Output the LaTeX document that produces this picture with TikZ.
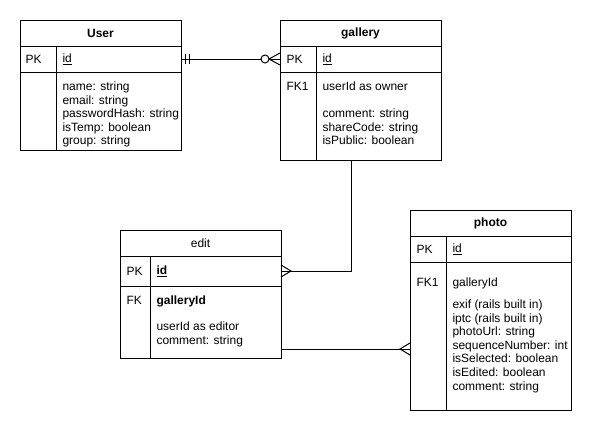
\documentclass[tikz,border=0pt]{standalone}
\usepackage{fontspec}
\setmainfont{Liberation Sans}
\usetikzlibrary{positioning}

\tikzset{
  tabla/.style={draw, line width=1pt, minimum width=161pt, inner sep=0pt, outer sep=0pt, anchor=north west},
  fila/.style={tabla, minimum height=26pt},
  cabecera/.style={fila, font=\bfseries},
  clave/.style={anchor=west, inner sep=0pt},
  campo/.style={anchor=base west, inner sep=0pt},
  campos/.style={anchor=north west, inner sep=0pt, align=left},
}

\begin{document}
\fontsize{12}{13.6}\selectfont
\begin{tikzpicture}[x=1pt, y=-1pt, line width=1pt]
\useasboundingbox (0,0) rectangle (591,434);

% User
\node[cabecera] (user-head) at (20,20) {User};
\node[fila, below=0pt of user-head] (user-pk) {};
\node[tabla, minimum height=78pt, below=0pt of user-pk] (user-body) {};
\draw ([xshift=36]user-pk.north west) -- ([xshift=36]user-body.south west);
\node[clave, right=5pt of user-pk.west] (user-pk-key) {PK};
\node[clave, right=42pt of user-pk.west] (user-id) {\underline{id}};
\node[campos] (user-campos) at (62,81.3) {name: string\\email: string\\passwordHash: string\\isTemp: boolean\\group: string};

% Gallery
\node[cabecera] (gallery-head) at (280,20) {gallery};
\node[fila, below=0pt of gallery-head] (gallery-pk) {};
\node[tabla, minimum height=88pt, below=0pt of gallery-pk] (gallery-body) {};
\draw ([xshift=36]gallery-pk.north west) -- ([xshift=36]gallery-body.south west);
\node[clave, right=6pt of gallery-pk.west] (gallery-pk-key) {PK};
\node[clave, right=42pt of gallery-pk.west] (gallery-id) {\underline{id}};
\node[campo] (gallery-fk-key) at (286,90) {FK1};
\node[campo] (gallery-fk) at (322,90) {userId as owner};
\node[campos] (gallery-campos) at (322,108.3) {comment: string\\shareCode: string\\isPublic: boolean};

% Edit
\node[fila] (edit-head) at (120,230) {edit};
\node[fila, minimum height=30pt, below=0pt of edit-head] (edit-pk) {};
\node[tabla, minimum height=72pt, below=0pt of edit-pk] (edit-body) {};
\draw ([xshift=30]edit-pk.north west) -- ([xshift=30]edit-body.south west);
\node[clave, right=6pt of edit-pk.west] (edit-pk-key) {PK};
\node[clave, right=36pt of edit-pk.west] (edit-id) {\textbf{\underline{id}}};
\node[campo] (edit-fk-key) at (126,304) {FK};
\node[campo] (edit-fk) at (156,304) {\textbf{galleryId}};
\node[campos] (edit-campos) at (156,321.3) {userId as editor\\comment: string};

% Photo
\node[cabecera] (photo-head) at (410,210) {photo};
\node[fila, below=0pt of photo-head] (photo-pk) {};
\node[tabla, minimum height=148pt, below=0pt of photo-pk] (photo-body) {};
\draw ([xshift=36]photo-pk.north west) -- ([xshift=36]photo-body.south west);
\node[clave, right=6pt of photo-pk.west] (photo-pk-key) {PK};
\node[clave, right=42pt of photo-pk.west] (photo-id) {\underline{id}};
\node[campo] (photo-fk-key) at (416,286) {FK1};
\node[campo] (photo-fk) at (452,286) {galleryId};
\node[campos] (photo-campos) at (452,299.3) {exif (rails built in)\\iptc (rails built in)\\photoUrl: string\\sequenceNumber: int\\isSelected: boolean\\isEdited: boolean\\comment: string};

% Relaciones
\draw (user-pk.east) -- (gallery-pk.west);
\draw ([xshift=4]user-pk.east) ++(0,-5) -- ++(0,10);
\draw ([xshift=8]user-pk.east) ++(0,-5) -- ++(0,10);
\draw ([yshift=6]gallery-pk.west) -- ([xshift=-11]gallery-pk.west) -- ([yshift=-6]gallery-pk.west);
\draw[fill=white] ([xshift=-15]gallery-pk.west) circle (4);

\draw ([xshift=-9]gallery-body.south) |- (edit-pk.east);
\draw ([yshift=6]edit-pk.east) -- ([xshift=10]edit-pk.east) -- ([yshift=-6]edit-pk.east);

\draw ([yshift=9]edit-body.south east) coordinate (e1) -- (e1 -| photo-body.west) coordinate (p1);
\draw ([yshift=6]p1) -- ([xshift=-10]p1) -- ([yshift=-6]p1);
\end{tikzpicture}
\end{document}
